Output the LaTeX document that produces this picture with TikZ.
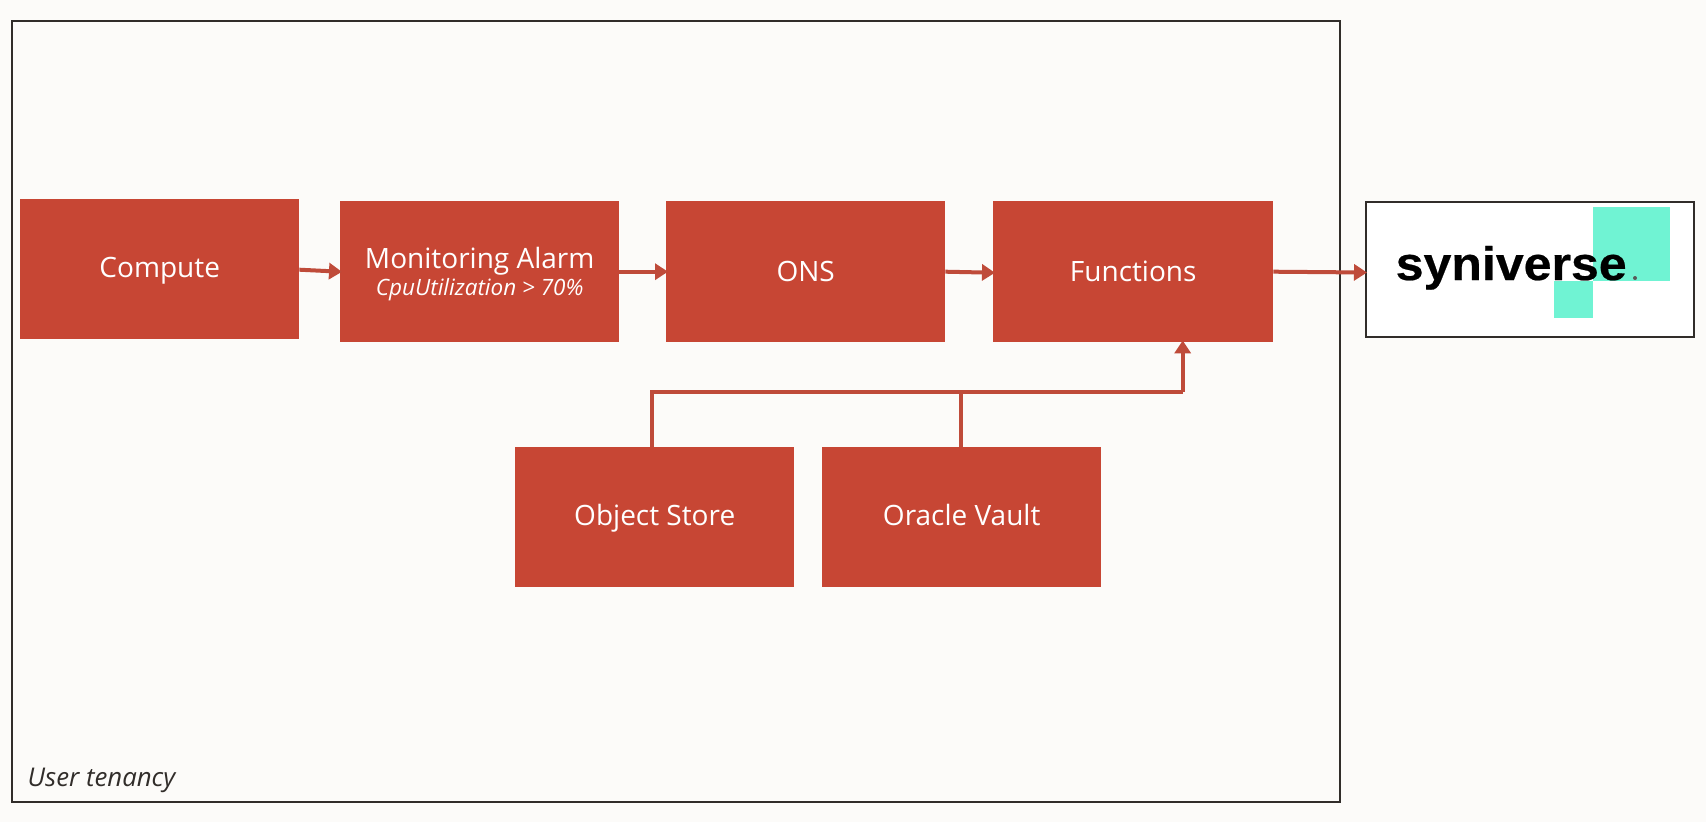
\documentclass[tikz,border=0pt]{standalone}
\usepackage{fontspec}
\setmainfont{Open Sans}
\newfontfamily\logofont[FakeStretch=1.065,FakeBold=0.5]{Liberation Sans Bold}
\usetikzlibrary{arrows.meta}
\definecolor{pagebg}{HTML}{FCFBF9}
\definecolor{oraclered}{HTML}{C74634}
\definecolor{linkred}{HTML}{BF4B3A}
\definecolor{frameink}{HTML}{312D2A}
\definecolor{logoteal}{HTML}{70F3D3}
\tikzset{
  x=1pt,y=-1pt,
  service/.style={draw=none,fill=oraclered,text=white,anchor=north west,inner sep=0pt,
    minimum width=279pt,minimum height=140pt,align=center,font=\fontsize{28}{30}\selectfont},
  single/.style={text height=24pt,text depth=8pt},
  singlelow/.style={text height=24pt,text depth=4.5pt},
  link/.style={draw=linkred,line width=4pt,shorten >=-2pt,-{Triangle[length=13pt,width=16pt]}},
  feeder/.style={draw=linkred,line width=4pt},
  outline/.style={draw=frameink,line width=2pt},
}
\begin{document}
\begin{tikzpicture}
\useasboundingbox (0,0) rectangle (1706,822);
\fill[pagebg] (0,0) rectangle (1706,822);
\node[outline,fill=pagebg,anchor=north west,inner sep=0pt,minimum width=1328pt,minimum height=781pt] (tenancy) at (11,20) {};
\node[anchor=base west,inner sep=0pt,text=frameink,font=\fontsize{25.8}{28}\selectfont\itshape] (tenancylabel) at (27.5,786) {User tenancy};

\node[service,single] (compute) at (20,199) {Compute};
\node[service,minimum height=141pt] (alarm) at (340,201) {\rule{0pt}{25pt}Monitoring Alarm\\[-3pt]{\fontsize{22.5}{24}\selectfont\itshape CpuUtilization > 70\%}};
\node[service,singlelow,minimum height=141pt] (ons) at (666,201) {ONS};
\node[service,singlelow,minimum width=280pt,minimum height=141pt] (functions) at (993,201) {Functions};
\node[service,single] (store) at (515,447) {Object Store};
\node[service,single] (vault) at (822,447) {Oracle Vault};

\node[outline,fill=white,anchor=north west,inner sep=0pt,minimum width=328pt,minimum height=135pt] (partner) at (1365,201) {};
\fill[logoteal] (1593,207) rectangle (1670,281);
\fill[logoteal] (1554,281) rectangle (1593,318);
\node[anchor=base west,inner sep=0pt,text=black,font=\logofont\fontsize{47}{52}\selectfont] (logo) at (1395.5,280) {syniverse};
\fill[black!65] (1635,278) circle (2pt);

\draw[link] ([yshift=-0.5pt]compute.east) -- (alarm.west);
\draw[link] (alarm.east) -- (ons.west);
\draw[link] (ons.east) -- ([yshift=-1pt]functions.west);
\draw[link] (functions.east) -- ([yshift=-3pt]partner.west);

\coordinate (storeTop) at ([xshift=-2.5pt]store.north);
\coordinate (vaultTop) at ([xshift=-1pt]vault.north);
\coordinate (funIn) at ([xshift=49.5pt]functions.south);
\coordinate (bend) at (funIn |- 0,391.5);
\draw[feeder,line join=miter] (storeTop) -- (storeTop |- bend) -- (bend);
\draw[feeder] (vaultTop) -- (vaultTop |- bend);
\draw[link] (bend) -- (funIn);
\end{tikzpicture}
\end{document}
